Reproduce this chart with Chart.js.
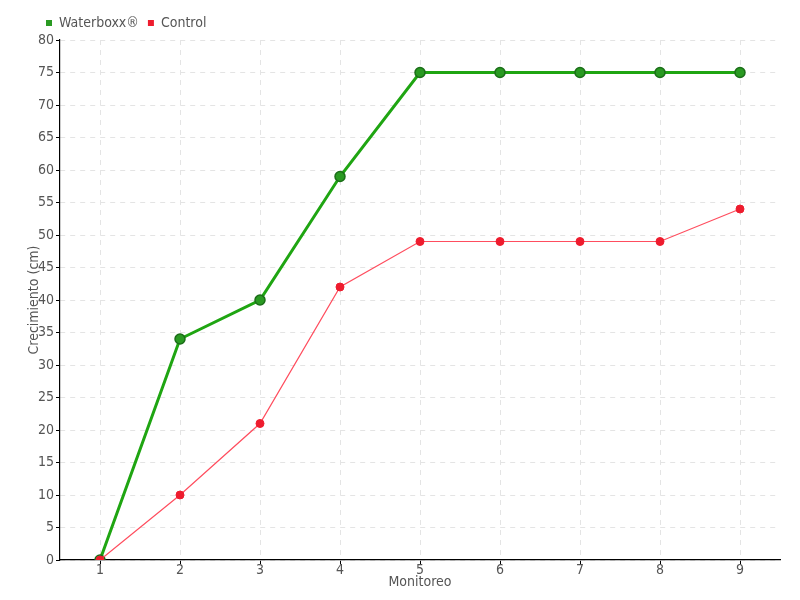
<!DOCTYPE html>
<html><head><meta charset="utf-8">
<script src="https://cdn.jsdelivr.net/npm/chart.js@4"></script>
<style>html,body{margin:0;padding:0;background:#fff}#wrap{width:800px;height:600px}</style>
</head><body><div id="wrap"><canvas id="c" width="800" height="600"></canvas></div>
<script>
const categories = ['1','2','3','4','5','6','7','8','9'];
const waterboxx = [0, 34, 40, 59, 75, 75, 75, 75, 75];
const control = [0, 10, 21, 42, 49, 49, 49, 49, 54];
const seriesNames = ['Waterboxx\u00AE', 'Control'];
const FONT = '"DejaVu Sans Condensed", "Liberation Sans Narrow", sans-serif';

const legendShift = {
  id: 'legendShift',
  afterLayout(chart) { if (chart.legend) { chart.legend.left += 11; } }
};

new Chart(document.getElementById('c'), {
  type: 'line',
  data: {
    labels: categories,
    datasets: [
      { label: seriesNames[0], data: waterboxx, order: 1, borderColor: '#1fa512', backgroundColor: '#2a9a22',
        pointBackgroundColor: '#2a9a22', pointBorderColor: '#1b6e18', pointBorderWidth: 1.5,
        pointRadius: 5, borderWidth: 3, tension: 0 },
      { label: seriesNames[1], data: control, order: 0, borderColor: '#ff4d5e', backgroundColor: '#ee1c2e',
        pointBackgroundColor: '#ee1c2e', pointBorderColor: '#ee1c2e', pointBorderWidth: 1,
        pointRadius: 4, borderWidth: 1.2, tension: 0 }
    ]
  },
  options: {
    responsive: false, animation: false, maintainAspectRatio: false,
    layout: { padding: { left: 26, right: 20, top: 7, bottom: 9 } },
    plugins: {
      tooltip: { enabled: false },
      legend: {
        position: 'top', align: 'start',
        labels: { boxWidth: 6, boxHeight: 6, padding: 9, color: '#555', font: { family: FONT, size: 14 },
          generateLabels: (chart) => chart.data.datasets.map((d, i) => ({
            text: d.label, fillStyle: d.backgroundColor, strokeStyle: d.backgroundColor, lineWidth: 0,
            datasetIndex: i, fontColor: '#555'
          })) }
      }
    },
    scales: {
      x: {
        offset: true,
        grid: { offset: false, color: '#e4e4e4', tickColor: '#000', tickLength: 4, drawTicks: true },
        border: { color: '#000', width: 1.2, dash: [5, 5] },
        ticks: { color: '#555', font: { family: FONT, size: 14 }, padding: -2, maxRotation: 0 },
        title: { display: true, text: 'Monitoreo', color: '#555', font: { family: FONT, size: 14 }, padding: 0 },
        afterFit: (s) => { s.height = 31; }
      },
      y: {
        min: 0, max: 80,
        grid: { color: '#e4e4e4', tickColor: '#000', tickLength: 4 },
        border: { color: '#000', width: 1.2, dash: [5, 5] },
        ticks: { stepSize: 5, color: '#555', font: { family: FONT, size: 14 }, padding: 2 },
        title: { display: true, text: 'Crecimiento (cm)', color: '#555', font: { family: FONT, size: 14 }, padding: 0 },
        afterFit: (s) => { s.width = 34; }
      }
    }
  },
  plugins: [legendShift]
});
</script></body></html>
